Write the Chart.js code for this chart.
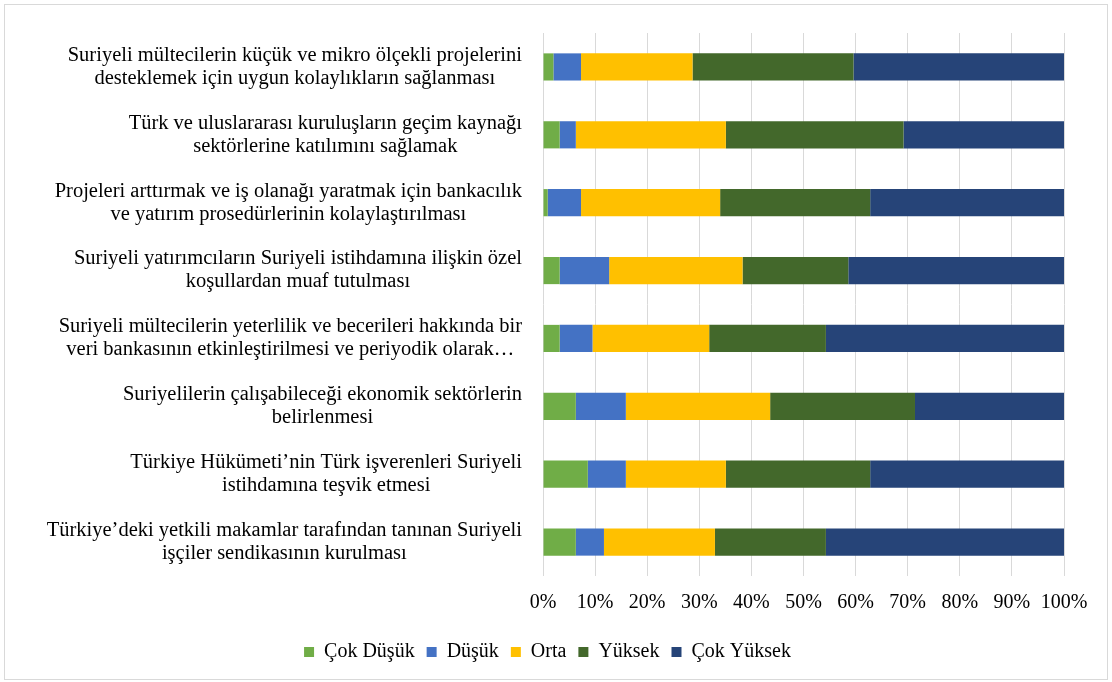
<!DOCTYPE html>
<html>
<head>
<meta charset="utf-8">
<script src="https://cdn.jsdelivr.net/npm/chart.js@4"></script>
<style>
  html, body { margin: 0; padding: 0; background: #fff; }
  #frame {
    position: absolute; left: 4px; top: 4px;
    width: 1102px; height: 674px;
    border: 1px solid #d9d9d9;
  }
  #chart { display: block; }
</style>
</head>
<body>
<div id="frame"><canvas id="chart" width="1102" height="674"></canvas></div>
<script>
// Kategoriler (üstten alta)
const categories = [
    ['Suriyeli mültecilerin küçük ve mikro ölçekli projelerini', 'desteklemek için uygun kolaylıkların sağlanması'],
    ['Türk ve uluslararası kuruluşların geçim kaynağı', 'sektörlerine katılımını sağlamak'],
    ['Projeleri arttırmak ve iş olanağı yaratmak için bankacılık', 've yatırım prosedürlerinin kolaylaştırılması'],
    ['Suriyeli yatırımcıların Suriyeli istihdamına ilişkin özel', 'koşullardan muaf tutulması'],
    ['Suriyeli mültecilerin yeterlilik ve becerileri hakkında bir', 'veri bankasının etkinleştirilmesi ve periyodik olarak…'],
    ['Suriyelilerin çalışabileceği ekonomik sektörlerin', 'belirlenmesi'],
    ['Türkiye Hükümeti’nin Türk işverenleri Suriyeli', 'istihdamına teşvik etmesi'],
    ['Türkiye’deki yetkili makamlar tarafından tanınan Suriyeli', 'işçiler sendikasının kurulması']
];

// Yüzde değerleri
const cokDusuk   = [2.0, 3.2, 0.9, 3.2, 3.2, 6.3, 8.6, 6.3];
const dusuk      = [5.3, 3.1, 6.4, 9.5, 6.3, 9.6, 7.3, 5.4];
const orta       = [21.4, 28.8, 26.7, 25.6, 22.4, 27.7, 19.2, 21.3];
const yuksek     = [30.9, 34.1, 28.8, 20.3, 22.4, 27.8, 27.7, 21.3];
const cokYuksek  = [40.4, 30.8, 37.2, 41.4, 45.7, 28.6, 37.2, 45.7];

const seriesNames = ['Çok Düşük', 'Düşük', 'Orta', 'Yüksek', 'Çok Yüksek'];
const xTicks = [0, 10, 20, 30, 40, 50, 60, 70, 80, 90, 100];

const FONT = '"Liberation Serif", "Times New Roman", serif';
Chart.defaults.font.family = FONT;
Chart.defaults.font.size = 20;
Chart.defaults.color = '#000';

// Excel tarzı kategori etiketleri: satırlar kendi bloklarında ortalı
const categoryLabels = {
    id: 'categoryLabels',
    afterDraw(chart) {
        const ctx = chart.ctx;
        const yScale = chart.scales.y;
        const right = chart.chartArea.left - 21;
        ctx.save();
        ctx.font = '20.5px ' + FONT;
        ctx.fillStyle = '#000';
        ctx.textAlign = 'center';
        ctx.textBaseline = 'middle';
        categories.forEach((lines, i) => {
            const yc = yScale.getPixelForValue(i);
            const w = Math.max(...lines.map(l => ctx.measureText(l).width));
            const cx = right - w / 2;
            const lh = 23;
            const y0 = yc - (lines.length - 1) * lh / 2;
            lines.forEach((l, j) => ctx.fillText(l, cx, y0 + j * lh));
        });
        ctx.restore();
    }
};

const ctx = document.getElementById('chart').getContext('2d');
new Chart(ctx, {
    type: 'bar',
    data: {
        labels: categories,
        datasets: [
            { label: seriesNames[0], data: cokDusuk,  backgroundColor: '#70AD47' },
            { label: seriesNames[1], data: dusuk,     backgroundColor: '#4472C4' },
            { label: seriesNames[2], data: orta,      backgroundColor: '#FFC000' },
            { label: seriesNames[3], data: yuksek,    backgroundColor: '#43682B' },
            { label: seriesNames[4], data: cokYuksek, backgroundColor: '#264478' }
        ]
    },
    options: {
        indexAxis: 'y',
        responsive: false,
        animation: false,
        datasets: {
            bar: { categoryPercentage: 1, barPercentage: 0.4, borderWidth: 0 }
        },
        layout: { padding: { left: 26, top: 28, right: 43, bottom: 7 } },
        scales: {
            x: {
                stacked: true,
                min: 0,
                max: 100,
                afterBuildTicks: (scale) => { scale.ticks = xTicks.map(v => ({ value: v })); },
                ticks: { callback: v => v + '%', padding: 17, maxRotation: 0, font: { lineHeight: 1 } },
                grid: { color: '#d9d9d9', lineWidth: 1, drawTicks: false },
                border: { display: false }
            },
            y: {
                stacked: true,
                afterFit: (scale) => { scale.width = 512; },
                ticks: { display: false },
                grid: { display: false },
                border: { display: false }
            }
        },
        plugins: {
            legend: {
                position: 'bottom',
                labels: { boxWidth: 10, boxHeight: 10, padding: 12, font: { size: 20, lineHeight: 1 } }
            },
            tooltip: { enabled: false }
        }
    },
    plugins: [categoryLabels]
});
</script>
</body>
</html>
